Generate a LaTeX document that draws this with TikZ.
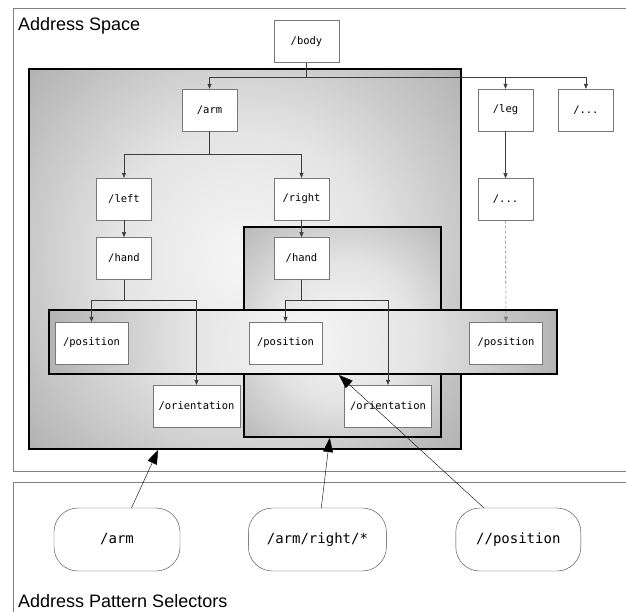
\documentclass[tikz,border=0pt]{standalone}
\usepackage{fontspec}
\setmainfont{Liberation Sans}
\newfontfamily\monofam{DejaVu Sans Mono}
\usepackage{tikz}
\usetikzlibrary{arrows.meta,positioning}
\usepackage{xcolor}
\definecolor{asframe}{RGB}{130,130,130}
\definecolor{asborder}{RGB}{120,120,120}
\definecolor{aslink}{RGB}{60,60,60}
\definecolor{asdash}{RGB}{125,125,125}
\definecolor{glowin}{RGB}{246,246,246}
\definecolor{glowmid}{RGB}{228,228,228}
\definecolor{glowout}{RGB}{176,176,176}
\pgfdeclareradialshading{boxglow}{\pgfpoint{0bp}{0bp}}{color(0bp)=(glowin); color(11bp)=(glowmid); color(25bp)=(glowout); color(50bp)=(glowout)}
\tikzstyle{addr} = [rectangle, draw=asborder, fill=white, thin, minimum width=55pt, minimum height=42pt, inner sep=2pt, font={\monofam\fontsize{10.5pt}{12pt}\selectfont}]
\tikzstyle{groupbox} = [rectangle, draw=black, line width=2pt, inner sep=0pt]
\tikzset{glow/.style={path picture={\shade[shading=boxglow] (path picture bounding box.center) ++(-#1,-#1) rectangle ++(2*#1,2*#1);}}}
\tikzstyle{selector} = [rectangle, rounded corners=24pt, draw=black!75, fill=white, thin, minimum width=125pt, minimum height=63pt, font={\monofam\fontsize{14pt}{16pt}\selectfont}]
\tikzstyle{link} = [draw=aslink, thin, -{Triangle[length=5pt,width=4pt]}]
\tikzstyle{pick} = [draw=black, thin, -{Triangle[length=14pt,width=10pt]}]

\begin{document}
\begin{tikzpicture}[x=1pt, y=-1pt]
\useasboundingbox (0,0) rectangle (626,611);
\clip (0,0) rectangle (626,611);

% Frames
\draw[asframe, thin] (13,8) rectangle (640,471);
\draw[asframe, thin] (13,482) rectangle (640,640);
\node (spacetitle) [anchor=base west, inner sep=0pt, font=\fontsize{18pt}{20pt}\selectfont] at (18,30) {Address Space};
\node (seltitle) [anchor=base west, inner sep=0pt, font=\fontsize{18pt}{20pt}\selectfont] at (18,607) {Address Pattern Selectors};

% Selected groups
\node (armgroup) [groupbox, glow=295, minimum width=432pt, minimum height=380pt] at (245,259) {};
\node (rightgroup) [groupbox, glow=160, minimum width=197pt, minimum height=210pt] at (342.5,332) {};
\node (posband) [groupbox, glow=265, minimum width=508pt, minimum height=64pt] at (303,342) {};

% Address tree
\node (body) [addr, minimum width=65pt] at (306.5,41.5) {/body};
\node (arm) [addr] at (209.5,110) {/arm};
\node (leg) [addr] at (505.5,110) {/leg};
\node (more1) [addr, right=25pt of leg] {/...};
\node (left) [addr] at (124,199) {/left};
\node (right) [addr] at (301.5,199) {/right};
\node (more2) [addr, below=47pt of leg] {/...};
\node (lhand) [addr, below=17pt of left] {/hand};
\node (rhand) [addr, below=17pt of right] {/hand};
\node (lpos) [addr, minimum width=73pt] at (91.5,343) {/position};
\node (mpos) [addr, minimum width=73pt] at (285.5,343) {/position};
\node (rpos) [addr, minimum width=73pt] at (506,343) {/position};
\node (lorient) [addr, minimum width=87pt] at (196.5,406) {/orientation};
\node (rorient) [addr, minimum width=87pt] at (388,406) {/orientation};

\draw[link] (body.south) -- ++(0,14.5) -| (arm);
\draw[link] (body.south) -- ++(0,14.5) -| (leg);
\draw[link] (body.south) -- ++(0,14.5) -| (more1);
\draw[link] (arm.south) -- ++(0,23) -| (left);
\draw[link] (arm.south) -- ++(0,23) -| (right);
\draw[link] (left) -- (lhand);
\draw[link] (right) -- (rhand);
\draw[link] (leg) -- (more2);
\draw[link, draw=asdash, semithick, dash pattern=on 3pt off 2pt] (more2) -- (rpos);
\draw[link] (lhand.south) -- ++(0,21) -| (lpos);
\draw[link] (lhand.south) -- ++(0,21) -| (lorient);
\draw[link] (rhand.south) -- ++(0,21) -| (mpos);
\draw[link] (rhand.south) -- ++(0,21) -| (rorient);

% Selectors
\node (armsel) [selector, minimum width=126pt] at (117,539.5) {/arm};
\node (rightsel) [selector, minimum width=138pt, right=68pt of armsel] {/arm/right/*};
\node (possel) [selector, right=69pt of rightsel] {//position};

\draw[pick] (armsel) -- (armgroup);
\draw[pick] (rightsel) -- (rightgroup);
\draw[pick] (possel) -- (posband);
\end{tikzpicture}
\end{document}
